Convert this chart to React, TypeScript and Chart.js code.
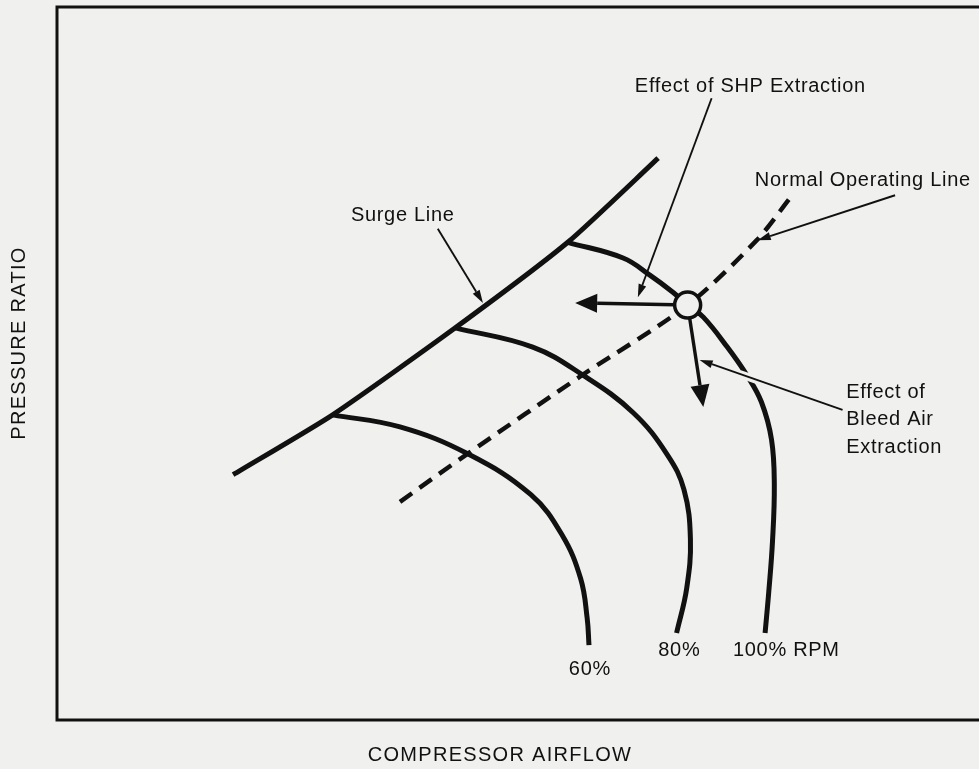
import { useEffect, useRef } from 'react';
import { Chart, registerables } from 'chart.js';

Chart.register(...registerables);

// ---- Data (arbitrary units: x = compressor airflow, y = pressure ratio) ----
const surgeX = [19.1, 29.9, 43.2, 55.4, 65.2];
const surgeY = [34.4, 42.8, 55.0, 67.0, 78.8];

const rpm60X = [29.9, 37.2, 44.6, 51.4, 54.8, 56.8, 57.5, 57.7];
const rpm60Y = [42.8, 41.1, 37.3, 31.6, 25.9, 19.8, 14.3, 10.5];

const rpm80X = [43.2, 51.6, 57.0, 62.5, 66.2, 68.0, 68.7, 68.3, 67.2];
const rpm80Y = [55.0, 52.3, 48.4, 43.1, 37.2, 32.3, 25.4, 18.5, 12.2];

const rpm100X = [55.4, 61.4, 64.3, 66.8, 68.4, 70.1, 72.7, 74.8, 76.4, 77.5, 77.8, 77.6, 77.2, 76.8];
const rpm100Y = [67.0, 64.8, 62.4, 60.0, 58.2, 56.5, 52.3, 48.4, 44.6, 39.3, 33.0, 25.0, 18.0, 12.2];

const operX = [37.2, 44.6, 57.0, 68.4, 75.9, 79.5];
const operY = [30.6, 37.4, 48.4, 58.2, 67.3, 73.2];

const operatingPoint = { x: 68.4, y: 58.2 };
const shpEffect = { x: 56.2, y: 58.5 };
const bleedEffect = { x: 70.1, y: 43.9 };

const speedLabels = ['60%', '80%', '100% RPM'];
const xTitle = 'COMPRESSOR AIRFLOW';
const yTitle = 'PRESSURE RATIO';

// annotation text + leader lines (label pos, leader from -> to)
const notes = [
  { lines: ['Surge Line'], at: { x: 37.5, y: 70.7 }, align: 'center', from: { x: 41.3, y: 68.9 }, to: { x: 46.2, y: 58.5 } },
  { lines: ['Effect of SHP Extraction'], at: { x: 75.2, y: 88.9 }, align: 'center', from: { x: 71.0, y: 87.2 }, to: { x: 63.0, y: 59.3 } },
  { lines: ['Normal Operating Line'], at: { x: 87.4, y: 75.6 }, align: 'center', from: { x: 90.9, y: 73.6 }, to: { x: 76.0, y: 67.3 } },
  { lines: ['Effect of', 'Bleed Air', 'Extraction'], at: { x: 85.6, y: 46.0 }, align: 'left', from: { x: 85.2, y: 43.5 }, to: { x: 69.7, y: 50.5 } },
];
const speedLabelPos = [
  { x: 57.8, y: 7.1 },
  { x: 67.5, y: 9.8 },
  { x: 79.1, y: 9.8 },
];

const BG = '#f0f0ee';
const INK = '#111111';
const FONT = '"Liberation Sans", Arial, sans-serif';

const pts = (xs: number[], ys: number[]) => xs.map((x, i) => ({ x, y: ys[i] }));

function arrowHead(ctx: CanvasRenderingContext2D, fx: number, fy: number, tx: number, ty: number, len: number, hw: number) {
  const a = Math.atan2(ty - fy, tx - fx);
  const bx = tx - len * Math.cos(a);
  const by = ty - len * Math.sin(a);
  ctx.beginPath();
  ctx.moveTo(tx, ty);
  ctx.lineTo(bx + hw * Math.sin(a), by - hw * Math.cos(a));
  ctx.lineTo(bx - hw * Math.sin(a), by + hw * Math.cos(a));
  ctx.closePath();
  ctx.fill();
  return { bx, by };
}

const overlay = {
  id: 'overlay',
  beforeDraw(chart: any) {
    const { ctx, width, height } = chart;
    ctx.save();
    ctx.fillStyle = BG;
    ctx.fillRect(0, 0, width, height);
    ctx.restore();
  },
  afterDatasetsDraw(chart: any) {
    const { ctx, chartArea, scales } = chart;
    const px = (v: number) => scales.x.getPixelForValue(v);
    const py = (v: number) => scales.y.getPixelForValue(v);
    ctx.save();
    ctx.strokeStyle = INK;
    ctx.fillStyle = INK;
    ctx.lineCap = 'butt';

    // frame (left, top, bottom)
    ctx.lineWidth = 3;
    ctx.beginPath();
    ctx.moveTo(chartArea.right + 2, chartArea.top);
    ctx.lineTo(chartArea.left, chartArea.top);
    ctx.lineTo(chartArea.left, chartArea.bottom);
    ctx.lineTo(chartArea.right + 2, chartArea.bottom);
    ctx.stroke();

    // effect arrows
    const ox = px(operatingPoint.x), oy = py(operatingPoint.y);
    for (const t of [shpEffect, bleedEffect]) {
      const tx = px(t.x), ty = py(t.y);
      const { bx, by } = arrowHead(ctx, ox, oy, tx, ty, 22, 9.5);
      ctx.lineWidth = 3.4;
      ctx.beginPath();
      ctx.moveTo(ox, oy);
      ctx.lineTo(bx, by);
      ctx.stroke();
    }

    // operating point circle
    ctx.beginPath();
    ctx.arc(ox, oy, 13, 0, Math.PI * 2);
    ctx.fillStyle = BG;
    ctx.fill();
    ctx.lineWidth = 3.5;
    ctx.stroke();
    ctx.fillStyle = INK;

    // leader lines
    notes.forEach((n, i) => {
      const fx = px(n.from.x), fy = py(n.from.y), tx = px(n.to.x), ty = py(n.to.y);
      if (i === 3) {
        // gap in the 100% line where the leader crosses
        ctx.save();
        ctx.strokeStyle = BG;
        ctx.lineWidth = 8;
        ctx.beginPath();
        const t1 = 0.55, t2 = 0.72;
        ctx.moveTo(fx + (tx - fx) * t1, fy + (ty - fy) * t1);
        ctx.lineTo(fx + (tx - fx) * t2, fy + (ty - fy) * t2);
        ctx.stroke();
        ctx.restore();
      }
      const { bx, by } = arrowHead(ctx, fx, fy, tx, ty, 13, 4);
      ctx.lineWidth = 1.9;
      ctx.beginPath();
      ctx.moveTo(fx, fy);
      ctx.lineTo(bx, by);
      ctx.stroke();
    });

    // text
    ctx.fillStyle = INK;
    ctx.textBaseline = 'middle';
    ctx.font = `20px ${FONT}`;
    (ctx as any).letterSpacing = '0.7px';
    notes.forEach((n) => {
      ctx.textAlign = n.align;
      n.lines.forEach((l, k) => {
        ctx.fillText(l, px(n.at.x), py(n.at.y) + k * 27.5);
      });
    });
    ctx.textAlign = 'center';
    speedLabels.forEach((l, i) => {
      ctx.fillText(l, px(speedLabelPos[i].x), py(speedLabelPos[i].y));
    });

    (ctx as any).letterSpacing = '1.3px';
    ctx.font = `20px ${FONT}`;
    ctx.fillText(xTitle, 500, 755);
    ctx.translate(19, 343);
    ctx.rotate(-Math.PI / 2);
    ctx.fillText(yTitle, 0, 0);
    ctx.restore();
  },
};

export default function App() {
  const ref = useRef<HTMLCanvasElement>(null);
  useEffect(() => {
    document.body.style.margin = '0';
    document.body.style.background = BG;
    const solid = { borderColor: INK, borderWidth: 5, pointRadius: 0, showLine: true, fill: false };
    const chart = new Chart(ref.current!, {
      type: 'scatter',
      data: {
        datasets: [
          { label: 'Surge Line', data: pts(surgeX, surgeY), ...solid, tension: 0.2 },
          { label: '60%', data: pts(rpm60X, rpm60Y), ...solid, tension: 0.4 },
          { label: '80%', data: pts(rpm80X, rpm80Y), ...solid, tension: 0.4 },
          { label: '100% RPM', data: pts(rpm100X, rpm100Y), ...solid, tension: 0.4 },
          { label: 'Normal Operating Line', data: pts(operX, operY), ...solid, borderWidth: 4.5, borderDash: [15, 9], tension: 0.3 },
        ],
      },
      options: {
        animation: false,
        responsive: false,
        layout: { padding: { left: 57, top: 7, right: 0, bottom: 49 } },
        scales: {
          x: { type: 'linear', min: 0, max: 100, display: false },
          y: { type: 'linear', min: 0, max: 100, display: false },
        },
        plugins: { legend: { display: false }, tooltip: { enabled: false } },
      },
      plugins: [overlay],
    });
    return () => chart.destroy();
  }, []);
  return (
    <div style={{ position: 'absolute', left: 0, top: 0, width: 979, height: 769 }}>
      <canvas ref={ref} width={979} height={769} />
    </div>
  );
}
